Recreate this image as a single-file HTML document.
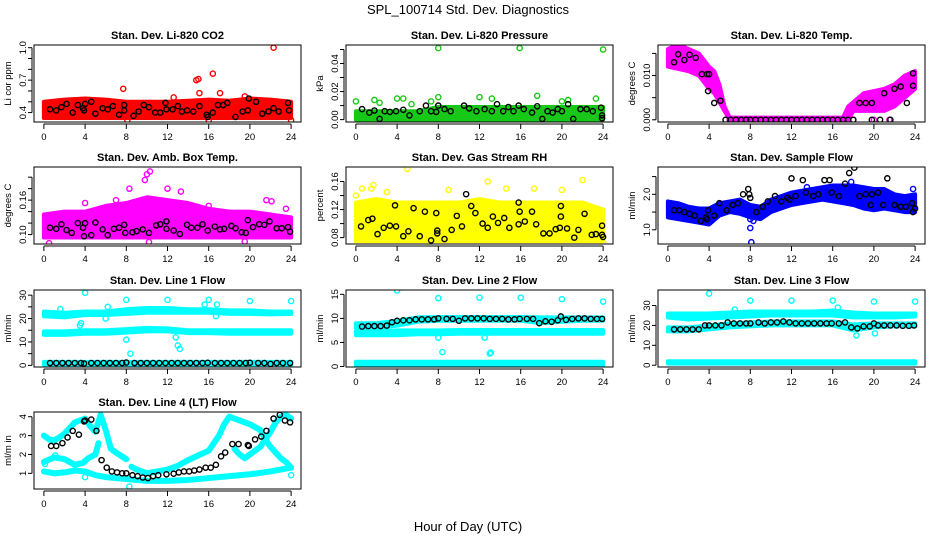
<!DOCTYPE html>
<html><head><meta charset="utf-8"><style>
body{margin:0;background:#fff;}
svg{display:block;font-family:"Liberation Sans",Arial,sans-serif;}
</style></head><body>
<svg id="chart" width="936" height="540" viewBox="0 0 936 540">
<rect width="936" height="540" fill="#fff"/>
<text x="468" y="14" text-anchor="middle" font-size="13">SPL_100714  Std. Dev. Diagnostics</text>
<text x="468" y="531" text-anchor="middle" font-size="13">Hour of Day (UTC)</text>
</svg>
<script>
// ---- data arrays ----
const hours = [0,2,4,6,8,10,12,14,16,18,20,22,24];
const xTicks = [0,4,8,12,16,20,24];
// P1 CO2
const co2Lo = [0.35,0.35,0.35,0.35,0.35,0.35,0.35,0.35,0.35,0.35,0.35,0.35,0.35];
const co2Hi = [0.5,0.52,0.53,0.52,0.5,0.5,0.5,0.51,0.52,0.51,0.53,0.52,0.5];
const co2OutH = [7.7,14.8,15.0,16.4,22.3,15.1,12.6,19.5,17.1,8.1,16,24];
const co2OutV = [0.62,0.70,0.71,0.76,1.0,0.58,0.54,0.55,0.58,0.33,0.33,0.33];
const co2BlkH = [0.6,1.2,1.7,2.2,2.8,3.3,3.8,3.9,4,4.6,5,5.7,6.2,6.7,7.3,7.8,7.8,8.7,9.2,9.7,10.2,10.8,11.3,11.8,11.9,12.5,13,13.4,13.9,14.5,15.1,15.8,15.9,16.4,16.9,17.4,17.8,18.6,19.3,19.8,19.9,20.6,21.2,21.8,22.3,22.8,23.7,23.8];
const co2BlkV = [0.43,0.42,0.45,0.48,0.40,0.47,0.44,0.42,0.48,0.50,0.39,0.44,0.43,0.46,0.38,0.47,0.42,0.37,0.41,0.47,0.45,0.40,0.40,0.49,0.43,0.43,0.46,0.41,0.42,0.41,0.46,0.38,0.36,0.40,0.47,0.47,0.49,0.36,0.41,0.42,0.53,0.50,0.39,0.41,0.44,0.41,0.49,0.42];
// P2 pressure
const prLo = [0,0,0,0,0,0,0,0,0,0,0,0,0];
const prHi = [0.006,0.006,0.006,0.006,0.009,0.009,0.009,0.009,0.009,0.009,0.009,0.009,0.009];
const prOutH = [0,1.8,2.3,4,4.6,5.4,7.3,8,8,12,13.2,15.9,17.6,23.3,24,20,20.6];
const prOutV = [0.013,0.014,0.012,0.015,0.015,0.011,0.013,0.051,0.016,0.016,0.015,0.051,0.017,0.015,0.050,0.013,0.014];
const prBlkH = [0.6,1.3,1.8,2.3,2.8,3.3,3.9,4.6,5.2,6.2,6.8,7.3,7.8,8,8.6,9.2,10.5,11,11.7,12.5,13.2,13.7,14.3,14.8,15.3,15.8,16.3,17.1,17.6,18.1,18.6,19.1,19.6,20,20.6,21.1,21.8,22.4,23,23.8,23.9,23.9];
const prBlkV = [0.0075,0.005,0.0065,0.0005,0.006,0.0055,0.006,0.007,0.003,0.006,0.01,0.006,0.0055,0.01,0.0075,0.006,0.01,0.008,0.006,0.0075,0.006,0.011,0.006,0.009,0.006,0.01,0.0075,0.005,0.0095,0.0005,0.006,0.005,0.0075,0.006,0.011,0.0005,0.0075,0.0075,0.006,0.0085,0.001,0.003];
// P3 Li-820 temp
const tH = [0,1,2,3,4,4.5,5,5.5,6,17,17.5,18,19,20,21,22,23,24];
const tLo = [0.012,0.0115,0.011,0.010,0.007,0.006,0.004,0.002,0,0,0,0.002,0.002,0.002,0.002,0.003,0.005,0.007];
const tHi = [0.016,0.017,0.016,0.015,0.012,0.011,0.008,0.003,0.0005,0.0005,0.003,0.004,0.006,0.0065,0.007,0.008,0.010,0.011];
const tOutH = [6,8,10,12,14,16,18,20,21.5];
const tOutV = [0,0,0,0,0,0,0,0,0];
const tBlkH = [0.6,1,1.6,2.1,2.7,3.3,3.8,4,3.9,4.5,5.1,5.6,6.1,6.6,7.1,7.6,8,8.5,9,9.5,10,10.5,11,11.5,12,12.5,13,13.5,14,14.5,15,15.5,16,16.5,17,17.5,18,18.6,19.2,19.8,19.8,20.6,21.6,21,22,22.6,23.2,23.8,23.8];
const tBlkV = [0.013,0.0148,0.0135,0.0147,0.014,0.0103,0.0103,0.0103,0.0065,0.0038,0.0043,0,0,0,0,0,0,0,0,0,0,0,0,0,0,0,0,0,0,0,0,0,0,0,0,0,0,0.0038,0.0038,0.0038,0,0,0,0.006,0.007,0.0075,0.0038,0.0105,0.0077];
// P4 amb box temp
const abLo = [0.095,0.095,0.095,0.095,0.095,0.095,0.095,0.095,0.095,0.095,0.095,0.095,0.095];
const abHi = [0.135,0.14,0.14,0.15,0.155,0.165,0.16,0.155,0.145,0.14,0.14,0.135,0.13];
const abOutH = [10,9.8,10.3,8.3,12,13.3,21.6,22.1,0.5,10.2,19.5,4,7,16,23.5];
const abOutV = [0.205,0.195,0.21,0.18,0.18,0.175,0.16,0.158,0.085,0.087,0.088,0.155,0.16,0.15,0.145];
const abBlkH = [0.6,1.2,1.7,2.2,2.7,3.3,3.8,4,3.9,4.6,5,5.7,6.2,6.8,7.3,7.8,7.9,8.6,9,9.6,10.2,10.9,11.3,11.9,11.9,12.6,13.2,13.9,14.3,14.9,15.4,15.9,16.6,17.1,17.5,18.2,18.6,19.2,19.6,19.8,20.3,20.9,21.4,21.9,22.6,23.1,23.7,23.9];
const abBlkV = [0.112,0.11,0.118,0.108,0.103,0.12,0.112,0.12,0.097,0.099,0.121,0.109,0.099,0.11,0.112,0.117,0.103,0.104,0.106,0.109,0.103,0.116,0.118,0.11,0.123,0.107,0.101,0.117,0.112,0.112,0.118,0.107,0.114,0.109,0.11,0.115,0.111,0.104,0.103,0.125,0.113,0.118,0.117,0.123,0.111,0.111,0.113,0.105];
// P5 RH
const rhLo = [0.075,0.075,0.075,0.075,0.075,0.075,0.075,0.075,0.075,0.075,0.075,0.075,0.075];
const rhHi = [0.13,0.135,0.13,0.13,0.13,0.13,0.135,0.13,0.13,0.13,0.13,0.13,0.12];
const rhOutH = [5,0.6,1.5,1.7,12.8,22,14.6,17.3,3,9,20,0,24];
const rhOutV = [0.178,0.15,0.15,0.155,0.16,0.162,0.15,0.15,0.145,0.148,0.148,0.14,0.073];
const rhBlkH = [0.5,1.2,1.6,2.1,2.7,3.3,3.8,3.9,4.6,5.1,5.6,6.2,6.7,7.3,7.8,7.9,7.9,8.6,9.3,9.8,10.3,10.7,11.2,11.6,12.3,12.8,13.3,13.8,14.4,14.9,15.8,15.8,15.9,16.4,17.1,17.5,18.2,18.8,19.4,19.8,19.9,19.9,20.5,21.2,21.6,22.2,22.9,23.3,23.9,23.9,24];
const rhBlkV = [0.096,0.105,0.107,0.085,0.094,0.097,0.126,0.096,0.082,0.089,0.122,0.082,0.117,0.076,0.115,0.09,0.086,0.078,0.091,0.111,0.096,0.142,0.125,0.115,0.1,0.094,0.11,0.101,0.108,0.094,0.099,0.13,0.117,0.103,0.117,0.099,0.086,0.086,0.092,0.094,0.125,0.11,0.093,0.08,0.091,0.114,0.084,0.085,0.097,0.084,0.081];
// P6 sample flow
const sfH = [0,1,2,3,4,5,6,7,8,9,10,11,12,13,14,15,16,17,18,19,20,21,22,23,24];
const sfLo = [1.35,1.3,1.25,1.2,1.15,1.4,1.5,1.45,1.35,1.3,1.5,1.6,1.7,1.75,1.8,1.85,1.8,1.75,1.7,1.6,1.55,1.6,1.55,1.5,1.5];
const sfHi = [1.8,1.75,1.65,1.6,1.6,1.75,1.8,1.85,1.7,1.65,1.85,1.95,2.05,2.1,2.15,2.2,2.25,2.25,2.25,2.2,2.15,2.15,2.0,1.95,2.0];
const sfOutH = [8.1,8,8,8.3,23.8,17.8,13.5];
const sfOutV = [0.65,1.05,1.3,1.25,2.15,2.35,2.2];
const sfBlkH = [0.6,1.1,1.6,2.1,2.6,3.2,3.7,3.8,3.9,4.5,5,5.7,6.3,6.8,7.3,7.8,7.9,8,8.6,9.2,9.7,10.4,11,11.6,11.8,12,12.4,13.1,13.4,14.1,14.6,15.2,15.7,15.9,16.6,17.2,17.6,18.1,18.6,19.2,19.8,19.7,20.4,20.9,21.3,22,22.6,23.1,23.7,23.8,24];
const sfBlkV = [1.55,1.55,1.5,1.45,1.4,1.25,1.35,1.3,1.55,1.4,1.75,1.55,1.7,1.75,2.0,2.15,2.0,1.9,1.5,1.65,1.8,1.95,1.8,1.9,1.85,2.45,1.95,2.4,2.05,1.95,2.0,2.4,2.4,2.05,1.95,2.3,2.6,2.75,1.95,2.0,2.0,1.7,2.05,1.7,2.45,1.7,1.65,1.65,1.75,1.5,1.6];
// P7 line 1
const l1aLo = [21,20.5,21.5,21.5,22,22.5,22.5,22.5,22.5,22,22,21.8,22];
const l1aHi = [23,22.5,23,23,24,24.5,24.5,24,24,23.5,23.5,23,23];
const l1bLo = [13,13,13.5,13.5,14,14.5,14.5,13.8,13.8,13.5,13.5,13.5,13.5];
const l1bHi = [14.5,14.5,15,15,15.5,16,15.8,15,15,15,15,15,15];
const l1cLo = [0.3,0.3,0.3,0.3,0.3,0.3,0.3,0.3,0.3,0.3,0.3,0.3,0.3];
const l1cHi = [1.5,1.5,1.5,1.5,1.5,1.5,1.5,1.5,1.5,1.5,1.5,1.5,1.5];
const l1OutH = [4,8,12,16,20,24,6.2,6,3.5,3.6,8,8.4,13,13.2,12.8,1.6,16.8,16.7,15.6];
const l1OutV = [31,28,28,28,27.5,27.5,25,20,17,18,11,5,8.5,7,12,24,26,21,26];
const l1BlkH = [0.6,1.2,1.8,2.4,3,3.6,3.9,4.6,5.2,5.8,6.4,7,7.6,8,8.8,9.4,10,10.6,11.2,11.8,12.4,13,13.6,14.2,14.8,15.4,15.9,16.6,17.2,17.8,18.4,19,19.6,20,20.8,21.4,22,22.6,23.2,23.9];
const l1BlkV = [1,1,1,1,1,1,0.8,1,1,1,1,1,1,1.2,1,1,1,1,1,1,1,1,1,1,1,1,1.1,1,1,1,1,1,1,1.1,1,1,0.6,1,1,1];
// P8 line 2
const l2aLo = [8,8,8.5,9.3,9.5,9.5,9.5,9.5,9.5,9,9.3,9.5,9.5];
const l2aHi = [9,9,9.5,10.2,10.3,10.3,10.3,10.3,10.3,10.2,10.2,10.2,10.2];
const l2bLo = [6.5,6.5,6.5,6.7,6.7,6.8,6.8,6.8,6.8,6.8,6.8,6.8,6.8];
const l2bHi = [7.3,7.3,7.5,7.5,7.5,7.6,7.6,7.6,7.6,7.6,7.6,7.6,7.6];
const l2cLo = [0.2,0.2,0.2,0.2,0.2,0.2,0.2,0.2,0.2,0.2,0.2,0.2,0.2];
const l2cHi = [1,1,1,1,1,1,1,1,1,1,1,1,1];
const l2OutH = [4,8,12,16,20,24,8.4,13,13.1,12.5,17.3,17.8,8];
const l2OutV = [15.8,14.2,14.3,14.3,14,13.5,3,2.7,2.9,6,9.5,9.5,6];
const l2BlkH = [0.6,1.2,1.8,2.4,3,3.5,4,4.6,5.2,5.8,6.4,7,7.6,8,8.8,9.4,10,10.6,11.2,11.8,12.4,13,13.6,14.2,14.8,15.4,15.9,16.6,17.2,17.8,18.4,19,19.6,19.9,20.4,21,21.6,22.2,22.8,23.4,23.9];
const l2BlkV = [8.3,8.4,8.4,8.4,8.5,9.2,9.5,9.6,9.6,9.8,9.8,9.8,9.8,10,9.9,9.9,9.5,10,10,10,10,9.9,9.9,9.9,9.8,9.8,9.9,9.9,9.9,9,9.4,9.3,9.6,10.4,9.7,9.9,10,10,9.9,9.9,9.9];
// P9 line 3
const l3aLo = [24,23,23.5,24,24.5,25,25,25,25,24,24,24,24.5];
const l3aHi = [26,26,26,26.5,27,27,27,27,27.5,26.5,26,26,26];
const l3bLo = [17,17,18,19,19.5,20,20,20,20,17.5,19,19.5,19.5];
const l3bHi = [19,19,20,21,21.5,22,22,22,22,20.5,21,21,21];
const l3cLo = [0.8,0.8,0.8,0.8,0.8,0.8,0.8,0.8,0.8,0.8,0.8,0.8,0.8];
const l3cHi = [2,2,2,2,2,2,2,2,2,2,2,2,2];
const l3OutH = [4,8,12,16,20,24,18.3,20.1,6.5,16.5];
const l3OutV = [36,32.5,32.5,32.5,32,32,15,16,28,29];
const l3BlkH = [0.6,1.2,1.8,2.4,3,3.6,4,4.6,5.2,5.8,6.4,7,7.6,8,8.8,9.4,10,10.6,11.2,11.8,12.4,13,13.6,14.2,14.8,15.4,15.9,16.6,17.2,17.8,18.4,19,19.6,20,20.4,21,21.6,22.2,22.8,23.4,23.9];
const l3BlkV = [18,18,18,18,18,20,20,20,20,21.5,21,21,21,21,21.5,21,21.5,21.5,22,21.5,21,21,21,21,21,21,21,21,21.5,19,18.5,19.5,19.5,21,20,20,20,20,19.8,19.8,20];
// P10 line 4
const l4aH = [0,0.5,1,1.5,2,2.5,3,3.5,4,4.5,5,5.5,6,6.5,7,8];
const l4aV = [3.0,2.8,2.75,2.9,3.1,3.4,3.7,3.8,3.9,3.5,3.2,4.1,3.3,2.3,2.1,1.75];
const l4bH = [0,1,2,3,3.8,4.3,5,5.3];
const l4bV = [1.6,1.85,1.75,1.45,1.55,1.8,2.0,2.6];
const l4cH = [0,1,2,3,4,5,6,8,10,12,14,16,18,20,22,23,24];
const l4cV = [1.1,1.0,1.05,1.15,1.1,0.9,0.8,0.7,0.6,0.6,0.65,0.75,0.85,0.95,1.1,1.2,1.3];
const l4dH = [8.5,9,10,11,12,13,14,15,16,16.5,17,17.5,18,19,20,21,21.5,22,23,23.5,24];
const l4dV = [1.35,1.2,1.0,1.1,1.2,1.4,1.7,1.95,2.2,2.6,3.0,3.6,4.0,3.8,3.6,3.3,2.8,2.4,1.8,1.6,1.3];
const l4eH = [18.5,19,19.5,20,21,22,22.5,23,23.5,24];
const l4eV = [2.3,2.0,1.8,2.0,2.4,3.2,3.7,4.0,4.1,3.9];
const l4OutH = [0.1,1.1,4,8.3,24];
const l4OutV = [1.5,1.95,0.8,0.3,0.9];
const l4BlkH = [0.7,1.2,1.8,2.3,2.8,3.4,3.9,4,4.6,5.1,5.6,6.1,6.6,7.1,7.6,8,8.6,9.1,9.6,10.1,10.6,11.1,11.9,12.6,13.1,13.6,14.1,14.6,15.1,15.7,16.2,16.7,17.2,17.6,18.3,18.9,19.8,19.9,20.5,21.1,21.6,22.3,22.9,23.4,23.9];
const l4BlkV = [2.45,2.45,2.6,2.9,3.25,3.05,3.75,3.8,3.85,3.25,1.7,1.3,1.1,1.05,1.0,1.0,0.9,0.85,0.78,0.75,0.85,0.9,0.95,0.98,1.05,1.1,1.1,1.15,1.2,1.3,1.3,1.45,1.9,2.1,2.55,2.55,2.5,2.45,2.8,2.95,3.25,3.9,4.1,3.8,3.7];

// ---- layout ----
const colX = [34,346,658], rowY = [45,167,290,412], PW = 267, PH = 77;
const NS = "http://www.w3.org/2000/svg";
const svg = document.getElementById('chart');
function mk(tag, attrs, parent){const e=document.createElementNS(NS,tag);for(const k in attrs)e.setAttribute(k,attrs[k]);(parent||svg).appendChild(e);return e;}

const panels = [
 {c:0,r:0,title:"Stan. Dev. Li-820 CO2",yl:"Li cor ppm",y0:0.313,y1:1.025,ticks:[0.4,0.5,0.6,0.7,0.8,0.9,1.0],labs:[0.4,0.7,1.0],dec:1,color:"#ff0000",
  bands:[[hours,co2Lo,co2Hi]],curves:[],out:[co2OutH,co2OutV],blk:[co2BlkH,co2BlkV]},
 {c:1,r:0,title:"Stan. Dev. Li-820 Pressure",yl:"kPa",y0:-0.0017,y1:0.0532,ticks:[0,0.01,0.02,0.03,0.04,0.05],labs:[0,0.02,0.04],dec:2,color:"#18c818",
  bands:[[hours,prLo,prHi]],curves:[],out:[prOutH,prOutV],blk:[prBlkH,prBlkV]},
 {c:2,r:0,title:"Stan. Dev. Li-820 Temp.",yl:"degrees C",y0:-0.0005,y1:0.0169,ticks:[0,0.005,0.01,0.015],labs:[0,0.01],dec:3,color:"#ff00ff",
  bands:[[tH,tLo,tHi]],curves:[],out:[tOutH,tOutV],blk:[tBlkH,tBlkV]},
 {c:0,r:1,title:"Stan. Dev. Amb. Box Temp.",yl:"degrees C",y0:0.0836,y1:0.2177,ticks:[0.10,0.12,0.14,0.16,0.18,0.20],labs:[0.10,0.16],dec:2,color:"#ff00ff",
  bands:[[hours,abLo,abHi]],curves:[],out:[abOutH,abOutV],blk:[abBlkH,abBlkV]},
 {c:1,r:1,title:"Stan. Dev. Gas Stream RH",yl:"percent",y0:0.0709,y1:0.1807,ticks:[0.08,0.10,0.12,0.14,0.16],labs:[0.08,0.12,0.16],dec:2,color:"#ffff00",
  bands:[[hours,rhLo,rhHi]],curves:[],out:[rhOutH,rhOutV],blk:[rhBlkH,rhBlkV]},
 {c:2,r:1,title:"Stan. Dev. Sample Flow",yl:"ml/min",y0:0.6,y1:2.77,ticks:[1.0,1.5,2.0,2.5],labs:[1.0,2.0],dec:1,color:"#0000ff",
  bands:[[sfH,sfLo,sfHi]],curves:[],out:[sfOutH,sfOutV],blk:[sfBlkH,sfBlkV]},
 {c:0,r:2,title:"Stan. Dev. Line 1 Flow",yl:"ml/min",y0:-0.7,y1:32.2,ticks:[0,5,10,15,20,25,30],labs:[0,10,20,30],dec:0,color:"#00ffff",
  bands:[[hours,l1aLo,l1aHi],[hours,l1bLo,l1bHi],[hours,l1cLo,l1cHi]],curves:[],out:[l1OutH,l1OutV],blk:[l1BlkH,l1BlkV]},
 {c:1,r:2,title:"Stan. Dev. Line 2 Flow",yl:"ml/min",y0:-0.1,y1:15.9,ticks:[0,5,10,15],labs:[0,5,10,15],dec:0,color:"#00ffff",
  bands:[[hours,l2aLo,l2aHi],[hours,l2bLo,l2bHi],[hours,l2cLo,l2cHi]],curves:[],out:[l2OutH,l2OutV],blk:[l2BlkH,l2BlkV]},
 {c:2,r:2,title:"Stan. Dev. Line 3 Flow",yl:"ml/min",y0:-0.9,y1:37.8,ticks:[0,10,20,30],labs:[0,10,20,30],dec:0,color:"#00ffff",
  bands:[[hours,l3aLo,l3aHi],[hours,l3bLo,l3bHi],[hours,l3cLo,l3cHi]],curves:[],out:[l3OutH,l3OutV],blk:[l3BlkH,l3BlkV]},
 {c:0,r:3,title:"Stan. Dev. Line 4 (LT) Flow",yl:"ml/m in",y0:0.17,y1:4.25,ticks:[1,2,3,4],labs:[1,2,3,4],dec:0,color:"#00ffff",
  bands:[],curves:[[l4aH,l4aV],[l4bH,l4bV],[l4cH,l4cV],[l4dH,l4dV],[l4eH,l4eV]],out:[l4OutH,l4OutV],blk:[l4BlkH,l4BlkV]}
];

panels.forEach((p,pi)=>{
  const L=colX[p.c], T=rowY[p.r];
  const g=mk('g',{});
  
  
  const xs=h=>L+PW*(h+0.96)/25.92;
  const ys=v=>T+PH-PH*(v-p.y0)/(p.y1-p.y0);
  const clip=mk('clipPath',{id:'cp'+pi},g);
  mk('rect',{x:L,y:T,width:PW,height:PH},clip);
  const data=mk('g',{'clip-path':'url(#cp'+pi+')'},g);
  p.bands.forEach(b=>{
    const [H,lo,hi]=b;
    let pts=H.map((h,i)=>xs(h)+','+ys(hi[i]));
    for(let i=H.length-1;i>=0;i--)pts.push(xs(H[i])+','+ys(lo[i]));
    const poly=mk('polygon',{points:pts.join(' '),fill:p.color,stroke:p.color,'stroke-width':4,'stroke-linejoin':'round'},data);
    
    
  });
  p.curves.forEach(cv=>{
    const [H,V]=cv;
    const pl=mk('polyline',{points:H.map((h,i)=>xs(h)+','+ys(V[i])).join(' '),fill:'none',stroke:p.color,'stroke-width':6,'stroke-linejoin':'round','stroke-linecap':'round'},data);
    
    
  });
  const [oh,ov]=p.out;
  oh.forEach((h,i)=>{
    const c=mk('circle',{cx:xs(h),cy:ys(ov[i]),r:2.6,fill:'none',stroke:p.color,'stroke-width':1.4},data);
    
    
  });
  const [bh,bv]=p.blk;
  bh.forEach((h,i)=>{
    const c=mk('circle',{cx:xs(h),cy:ys(bv[i]),r:2.6,fill:'none',stroke:'#000','stroke-width':1.4},data);
    
    
  });
  const box=mk('rect',{x:L,y:T,width:PW,height:PH,fill:'none',stroke:'#000','stroke-width':1},g);
  
  
  const tt=mk('text',{x:L+PW/2,y:T-6,'text-anchor':'middle','font-size':11,'font-weight':'bold'},g);
  tt.textContent=p.title;
  
  
  // x axis
  const ax=T+PH+2;
  mk('line',{x1:xs(0),x2:xs(24),y1:ax,y2:ax,stroke:'#000'},g);
  xTicks.forEach(t=>{
    mk('line',{x1:xs(t),x2:xs(t),y1:ax,y2:ax+5,stroke:'#000'},g);
    const tx=mk('text',{x:xs(t),y:ax+16,'text-anchor':'middle','font-size':9.5},g);
    tx.textContent=t;
    
    
  });
  // y axis
  const ay=L-2;
  mk('line',{x1:ay,x2:ay,y1:ys(p.ticks[0]),y2:ys(p.ticks[p.ticks.length-1]),stroke:'#000'},g);
  p.ticks.forEach(t=>mk('line',{x1:ay,x2:ay-4,y1:ys(t),y2:ys(t),stroke:'#000'},g));
  p.labs.forEach(t=>{
    const tx=mk('text',{x:0,y:0,'text-anchor':'middle','font-size':9.5,transform:'translate('+(L-8)+','+ys(t)+') rotate(-90)'},g);
    tx.textContent=t.toFixed(p.dec);
    
    
  });
  const yt=mk('text',{x:0,y:0,'text-anchor':'middle','font-size':9.5,transform:'translate('+(L-23)+','+(T+PH/2)+') rotate(-90)'},g);
  yt.textContent=p.yl;
  
  
});
</script>
</body></html>
